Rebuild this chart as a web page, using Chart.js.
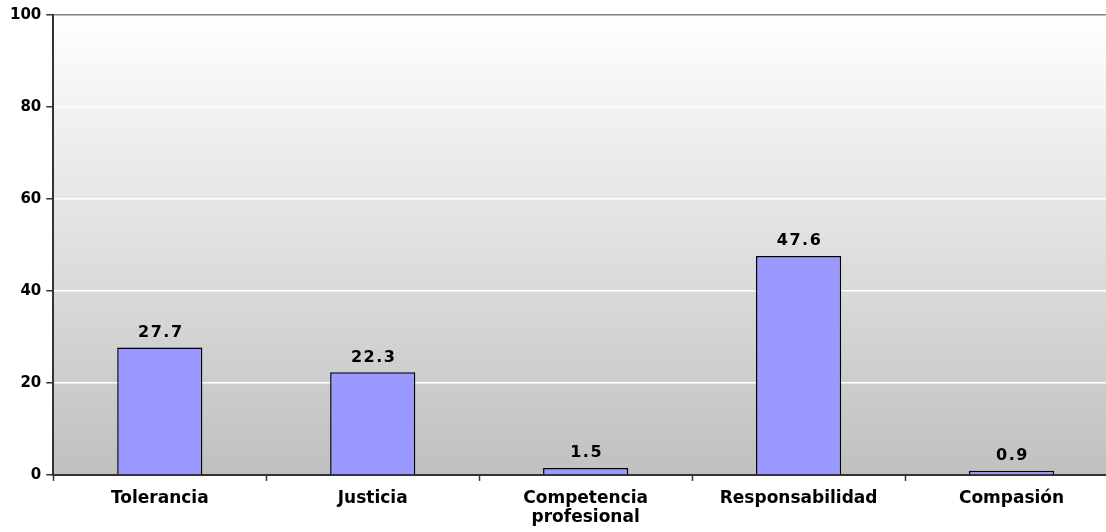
<!DOCTYPE html>
<html>
<head>
<meta charset="utf-8">
<title>Valores</title>
<script src="https://cdn.jsdelivr.net/npm/chart.js@4.4.0/dist/chart.umd.min.js"></script>
<style>
    html, body { margin: 0; padding: 0; background: #ffffff; overflow: hidden; }
    #wrap { width: 1118px; height: 532px; }
</style>
</head>
<body>
<div id="wrap"><canvas id="canvas" width="1118" height="532"></canvas></div>
<script>
    // categories and values
    const categorias = ['Tolerancia', 'Justicia', ['Competencia', 'profesional'], 'Responsabilidad', 'Compasión'];
    const porcentajes = [27.7, 22.3, 1.5, 47.6, 0.9];
    const ticksY = [0, 20, 40, 60, 80, 100];

    // grey gradient behind the plot area
    const fondo = {
        id: 'fondo',
        beforeDraw(chart) {
            const a = chart.chartArea, ctx = chart.ctx;
            const g = ctx.createLinearGradient(0, a.top, 0, a.bottom);
            g.addColorStop(0, '#ffffff');
            g.addColorStop(1, '#c0c0c0');
            ctx.save();
            ctx.fillStyle = g;
            ctx.fillRect(a.left, a.top, a.right - a.left, a.bottom - a.top);
            ctx.restore();
        }
    };

    // value labels above each bar
    const etiquetas = {
        id: 'etiquetas',
        afterDatasetsDraw(chart) {
            const ctx = chart.ctx;
            const meta = chart.getDatasetMeta(0);
            ctx.save();
            ctx.font = 'bold 16px "DejaVu Sans"';
            ctx.fillStyle = '#000000';
            ctx.textAlign = 'center';
            ctx.textBaseline = 'bottom';
            if ('letterSpacing' in ctx) ctx.letterSpacing = '1.5px';
            meta.data.forEach(function (bar, i) {
                ctx.fillText(porcentajes[i].toFixed(1), bar.x + 1, bar.y - 7);
            });
            ctx.restore();
        }
    };

    new Chart(document.getElementById('canvas'), {
        type: 'bar',
        data: {
            labels: categorias,
            datasets: [{
                data: porcentajes,
                backgroundColor: '#9999ff',
                borderColor: '#000000',
                borderWidth: 1.5,
                barPercentage: 0.4,
                categoryPercentage: 1
            }]
        },
        options: {
            responsive: false,
            animation: false,
            layout: { padding: { top: 15, left: 5, right: 0, bottom: -3 } },
            plugins: { legend: { display: false }, tooltip: { enabled: false } },
            scales: {
                x: {
                    grid: {
                        offset: true,
                        drawOnChartArea: false,
                        tickLength: 6,
                        tickColor: '#333333',
                        tickWidth: 1.5
                    },
                    border: { color: '#333333', width: 2 },
                    ticks: {
                        color: '#000000',
                        font: { family: 'DejaVu Sans', size: 17, weight: 'bold', lineHeight: 1.12 },
                        maxRotation: 0,
                        padding: 8
                    }
                },
                y: {
                    min: 0,
                    max: 100,
                    afterBuildTicks(axis) {
                        axis.ticks = ticksY.map(function (v) { return { value: v }; });
                    },
                    grid: {
                        color: function (c) {
                            if (c.tick.value === 100) return '#808080';
                            if (c.tick.value === 0) return 'rgba(0,0,0,0)';
                            return '#ffffff';
                        },
                        lineWidth: 1.5,
                        tickLength: 7,
                        tickColor: '#333333'
                    },
                    border: { color: '#333333', width: 2 },
                    ticks: {
                        color: '#000000',
                        font: { family: 'DejaVu Sans', size: 15, weight: 'bold' },
                        padding: 5
                    }
                }
            }
        },
        plugins: [fondo, etiquetas]
    });
</script>
</body>
</html>
